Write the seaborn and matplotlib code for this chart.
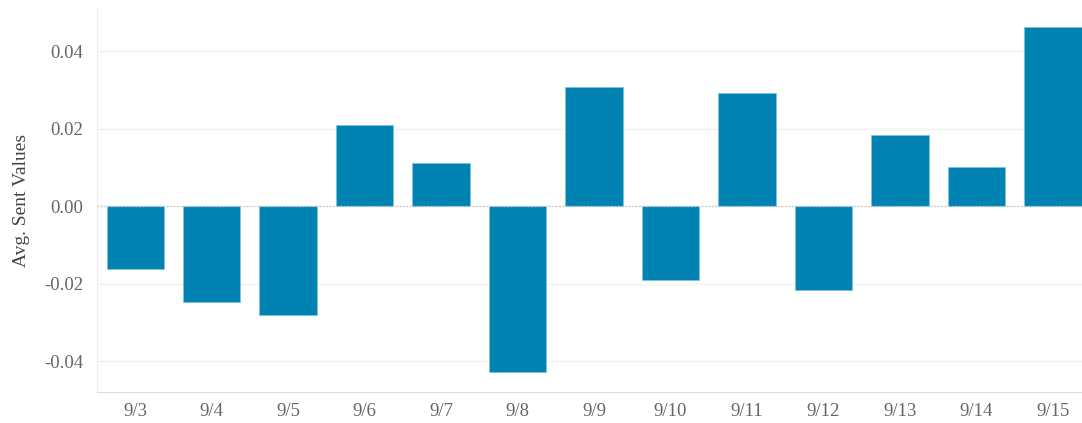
import matplotlib
matplotlib.use("Agg")
import matplotlib.pyplot as plt
import pandas as pd
import seaborn as sns

dates = ["9/3", "9/4", "9/5", "9/6", "9/7", "9/8", "9/9", "9/10", "9/11", "9/12", "9/13", "9/14", "9/15"]
sent_values = [-0.0163, -0.0248, -0.0281, 0.0209, 0.0111, -0.0428, 0.0307, -0.0191, 0.0292, -0.0217, 0.0183, 0.0101, 0.0462]

sns.set_style("white")
plt.rcParams["font.family"] = ["Liberation Serif", "DejaVu Serif"]

df = pd.DataFrame({"date": dates, "value": sent_values})

fig = plt.figure(figsize=(10.82, 4.23), dpi=100)
ax = fig.add_axes([97 / 1082, 31 / 423, 996 / 1082, 384 / 423])

sns.barplot(data=df, x="date", y="value", color="#0083b3", saturation=1,
            width=0.75, edgecolor="#7fc3dd", linewidth=0.6, ax=ax, zorder=3)

ax.set_xlim(-0.475, 12.525)
ax.set_ylim(-0.048, 0.0511)
ax.set_yticks([-0.04, -0.02, 0.0, 0.02, 0.04])
ax.set_yticklabels(["-0.04", "-0.02", "0.00", "0.02", "0.04"])
ax.grid(axis="y", color="#f0f0f0", linewidth=1, zorder=0)
ax.axhline(0, color="#c8c8c8", linestyle=(0, (1, 1.5)), linewidth=1, zorder=4)

ax.set_xticks(range(len(dates)))
ax.set_xticks([i + 0.5 for i in range(-1, len(dates))], minor=True)
ax.tick_params(axis="x", which="major", length=0, pad=8, labelsize=13.5, labelcolor="#666666")
ax.tick_params(axis="x", which="minor", length=5, color="#dddddd", width=1)
ax.tick_params(axis="y", length=10, color="#f0f0f0", pad=0, labelsize=13.5, labelcolor="#666666")

for side in ["top", "right"]:
    ax.spines[side].set_visible(False)
ax.spines["left"].set_color("#eeeeee")
ax.spines["bottom"].set_color("#dddddd")

ax.set_xlabel("")
ax.set_ylabel("Avg. Sent Values", fontsize=14, color="#444444", labelpad=10)

fig.savefig("out.png", dpi=100)
